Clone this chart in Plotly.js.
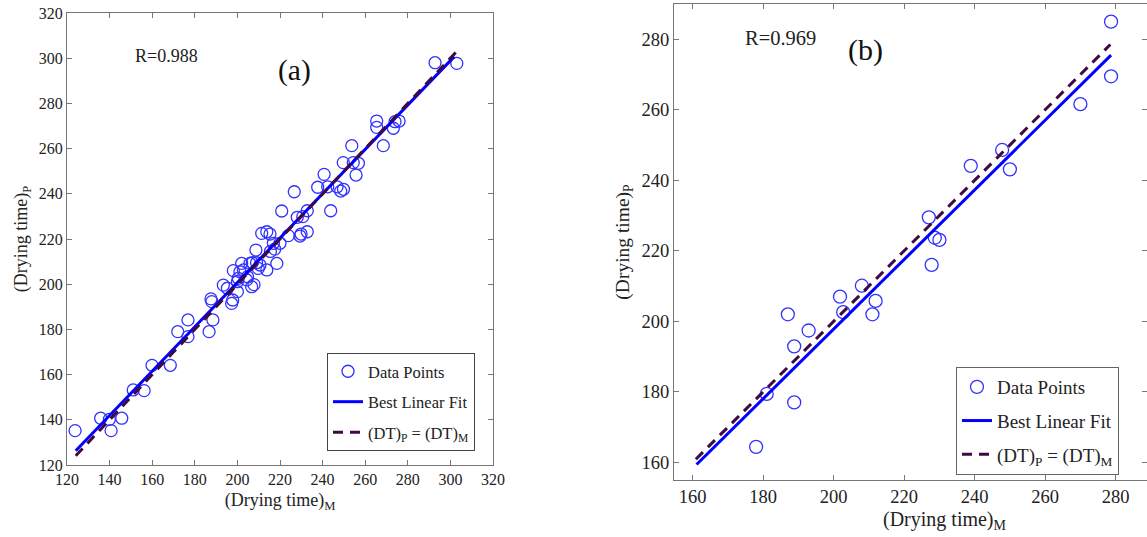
<!DOCTYPE html>
<html>
<head>
<meta charset="utf-8">
<script src="https://cdn.plot.ly/plotly-3.0.1.min.js"></script>
<style>html,body{margin:0;padding:0;background:#fff;}#chart{width:1147px;height:537px;}</style>
</head>
<body>
<div id="chart"></div>
<script>
// Panel (a) data: measured (M) vs predicted (P) drying time
const aMeasured = [123.8,135.8,139.9,140.7,145.7,151.1,156.2,159.9,168.5,172.0,176.8,176.8,186.7,187.6,188.0,188.5,
  193.4,195.3,197.3,197.8,198.1,200.0,200.4,200.0,202.0,201.2,202.8,204.4,204.8,205.9,207.0,206.7,207.8,208.7,209.0,
  209.8,210.6,211.4,213.8,213.8,215.3,215.5,216.9,217.5,218.5,220.0,220.8,223.9,226.7,228.1,229.4,229.9,230.7,232.8,
  232.8,237.7,240.7,242.4,243.8,246.8,248.5,249.8,249.7,253.7,254.4,256.8,255.7,265.4,265.4,268.5,273.2,274.0,275.9,292.8,303.0];
const aPredicted = [135.2,140.7,140.2,135.2,140.7,153.2,152.9,164.1,164.1,179.0,184.2,176.8,179.0,193.5,192.3,184.2,
  199.6,198.2,191.5,193.0,206.0,201.1,202.6,196.7,209.2,205.5,206.3,201.9,203.3,209.2,209.5,198.9,199.8,215.1,209.5,
  207.0,208.5,222.5,223.2,206.3,222.2,214.5,218.1,215.5,209.2,218.1,232.4,221.5,240.9,229.6,221.3,222.2,229.9,232.5,
  223.2,242.9,248.6,243.1,232.5,243.1,241.2,242.0,253.8,261.3,253.8,253.5,248.3,272.2,269.4,261.3,269.0,271.9,272.2,298.0,297.7];
const aFitX = [124.1, 301.8];
const aFitY = [126.3, 300.7];
const aIdent = [124.1, 302.6];

// Panel (b) data
const bMeasured = [178.0,181.0,188.8,187.0,188.8,192.9,201.8,202.7,208.0,211.0,211.9,227.0,227.8,228.7,230.0,238.9,247.8,250.0,270.0,278.7,278.7];
const bPredicted = [164.4,179.4,177.0,202.0,192.9,197.4,207.0,202.6,210.1,202.0,205.8,229.5,216.0,223.7,223.1,244.1,248.6,243.1,261.6,269.5,285.0];
const bFitX = [161.1, 278.7];
const bFitY = [159.4, 275.5];
const bIdent = [160.9, 278.5];

// Text
const legendNames = ['Data Points', 'Best Linear Fit', '(DT)<sub>P</sub> = (DT)<sub>M</sub>'];
const xTitle = '(Drying time)<sub>M</sub>';
const yTitle = '(Drying time)<sub>P</sub>';
const rLabels = ['R=0.988', 'R=0.969'];
const panelLabels = ['(a)', '(b)'];

const serif = 'Liberation Serif, Times New Roman, serif';
const txt = '#222';
const markBlue = 'rgb(50,50,255)';
const fitBlue = 'rgb(0,0,255)';
const identCol = 'rgb(64,10,64)';

function traces(mx, my, fx, fy, id, xa, ya, lg, ms, lw) {
  return [
    {x: mx, y: my, type: 'scatter', mode: 'markers', name: legendNames[0], xaxis: xa, yaxis: ya, legend: lg,
     legendgroup: lg + '1',
     marker: {symbol: 'circle-open', size: ms, color: markBlue, line: {width: 1.3, color: markBlue}}},
    {x: fx, y: fy, type: 'scatter', mode: 'lines', name: legendNames[1], xaxis: xa, yaxis: ya, legend: lg,
     legendgroup: lg + '2',
     line: {color: fitBlue, width: lw}},
    {x: id, y: id, type: 'scatter', mode: 'lines', name: legendNames[2], xaxis: xa, yaxis: ya, legend: lg,
     legendgroup: lg + '3',
     line: {color: identCol, width: lw, dash: '10px,7px'}}
  ];
}

const data = [].concat(
  traces(aMeasured, aPredicted, aFitX, aFitY, aIdent, 'x', 'y', 'legend', 12, 3),
  traces(bMeasured, bPredicted, bFitX, bFitY, bIdent, 'x2', 'y2', 'legend2', 13, 3)
);

function ax(domain, range, fs, tfs, title, anchor) {
  return {
    domain: domain, range: range, anchor: anchor, dtick: 20, tick0: 0,
    ticks: 'inside', ticklen: 5, tickcolor: '#777', showline: true, linecolor: '#777', linewidth: 1,
    mirror: 'ticks', showgrid: false, zeroline: false, automargin: false,
    tickfont: {family: serif, size: fs, color: txt},
    title: {text: title, font: {family: serif, size: tfs, color: txt}, standoff: 6}
  };
}

const layout = {
  width: 1147, height: 537,
  margin: {l: 0, r: 0, t: 0, b: 0},
  paper_bgcolor: '#fff', plot_bgcolor: '#fff',
  showlegend: true,
  xaxis: ax([67/1147, 493/1147], [120, 320], 16, 18, xTitle, 'y'),
  yaxis: ax([72/537, 524/537], [120, 320], 16, 18, yTitle, 'x'),
  xaxis2: Object.assign(ax([674/1147, 1], [154.7, 288.9], 18.5, 20, '', 'y2'), {title: {text: ''}}),
  yaxis2: ax([57/537, 533/537], [155, 290], 18.5, 19.5, yTitle, 'x2'),
  legend: {x: 327/1147, y: 184/537, xanchor: 'left', yanchor: 'top', bgcolor: '#fff', traceorder: 'grouped',
    bordercolor: '#444', borderwidth: 1, font: {family: serif, size: 16.5, color: txt}, tracegroupgap: 6},
  legend2: {x: 956/1147, y: 170/537, xanchor: 'left', yanchor: 'top', bgcolor: '#fff', traceorder: 'grouped',
    bordercolor: '#666', borderwidth: 1, font: {family: serif, size: 19, color: txt}, tracegroupgap: 6},
  annotations: [
    {xref: 'x', yref: 'y', x: 151, y: 301, text: rLabels[0], showarrow: false, xanchor: 'left',
     font: {family: serif, size: 18, color: txt}},
    {xref: 'x', yref: 'y', x: 227, y: 294.5, text: panelLabels[0], showarrow: false,
     font: {family: serif, size: 29.5, color: '#111'}},
    {xref: 'x2', yref: 'y2', x: 174.4, y: 280.3, text: rLabels[1], showarrow: false, xanchor: 'left',
     font: {family: serif, size: 20.5, color: txt}},
    {xref: 'x2', yref: 'y2', x: 208.9, y: 277, text: panelLabels[1], showarrow: false,
     font: {family: serif, size: 30, color: '#111'}},
    {xref: 'paper', yref: 'paper', x: 945/1147, y: 17/537, text: xTitle, showarrow: false,
     xanchor: 'center', yanchor: 'middle', font: {family: serif, size: 20, color: txt}}
  ]
};

Plotly.newPlot('chart', data, layout, {displayModeBar: false, staticPlot: true});
</script>
</body>
</html>
